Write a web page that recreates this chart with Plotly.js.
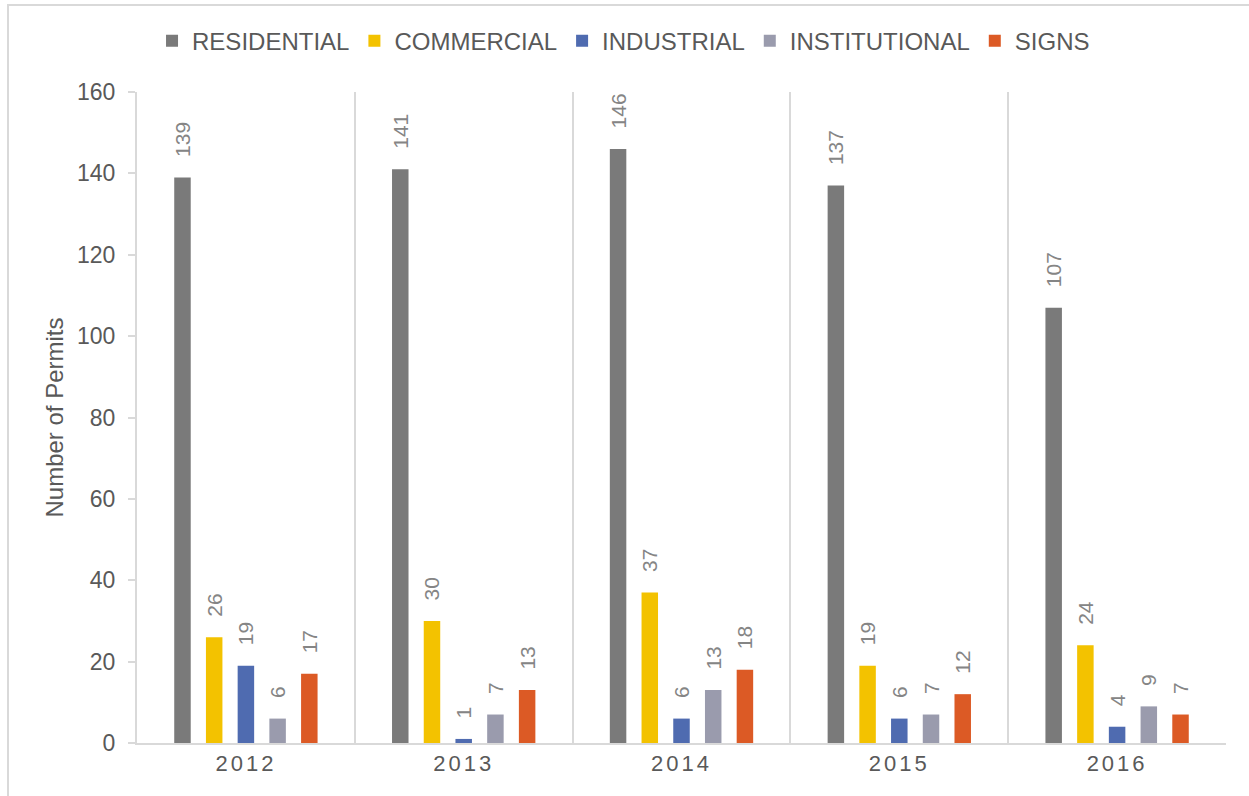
<!DOCTYPE html>
<html>
<head>
<meta charset="utf-8">
<script src="https://cdn.plot.ly/plotly-3.0.1.min.js"></script>
<style>
  html, body { margin: 0; padding: 0; background: #ffffff; overflow: hidden; }
  #chart { position: absolute; left: 0; top: 0; width: 1249px; height: 796px; }
  #frame { position: absolute; left: 7px; top: 4px; width: 1400px; height: 900px;
           border-left: 2px solid #d9d9d9; border-top: 2px solid #d9d9d9; pointer-events: none; }
  .xtick text { letter-spacing: 3px; }
</style>
</head>
<body>
<div id="chart"></div>
<div id="frame"></div>
<script>
const years = ['2012', '2013', '2014', '2015', '2016'];
const residential   = [139, 141, 146, 137, 107];
const commercial    = [26, 30, 37, 19, 24];
const industrial    = [19, 1, 6, 6, 4];
const institutional = [6, 7, 13, 7, 9];
const signs         = [17, 13, 18, 12, 7];

const seriesNames  = ['RESIDENTIAL', 'COMMERCIAL', 'INDUSTRIAL', 'INSTITUTIONAL', 'SIGNS'];
const seriesValues = [residential, commercial, industrial, institutional, signs];
const seriesColors = ['#7a7a7a', '#f3c200', '#4f6bb0', '#9a9bad', '#dc5a25'];

const FONT = 'Liberation Sans, Arial, sans-serif';

const traces = seriesNames.map((name, i) => ({
  type: 'bar',
  name: name,
  x: years,
  y: seriesValues[i],
  marker: { color: seriesColors[i] },
  text: seriesValues[i].map(v => String(v)),
  texttemplate: '\u00a0\u00a0\u00a0%{text}',
  textposition: 'outside',
  textangle: -90,
  constraintext: 'none',
  cliponaxis: false,
  textfont: { family: FONT, size: 21, color: '#858585' },
  hoverinfo: 'x+y+name'
}));

const layout = {
  width: 1249,
  height: 796,
  margin: { l: 137, r: 23, t: 92, b: 53 },
  paper_bgcolor: '#ffffff',
  plot_bgcolor: '#ffffff',
  font: { family: FONT, color: '#595959' },
  barmode: 'group',
  bargap: 0.272,
  bargroupgap: 0.48,
  showlegend: true,
  legend: {
    orientation: 'h',
    x: 0.0138,
    xanchor: 'left',
    y: 1.078,
    yanchor: 'middle',
    font: { family: FONT, size: 24, color: '#595959' },
    itemclick: false,
    traceorder: 'normal'
  },
  xaxis: {
    type: 'category',
    tickson: 'boundaries',
    showgrid: true,
    gridcolor: '#d9d9d9',
    gridwidth: 2,
    showline: true,
    linecolor: '#d9d9d9',
    linewidth: 2,
    ticks: '',
    tickfont: { family: FONT, size: 22, color: '#595959' },
    zeroline: false,
    fixedrange: true
  },
  yaxis: {
    range: [0, 160],
    dtick: 20,
    showgrid: false,
    zeroline: false,
    showline: true,
    linecolor: '#d9d9d9',
    linewidth: 2,
    ticks: 'outside',
    ticklen: 7,
    tickwidth: 2,
    tickcolor: '#d9d9d9',
    ticklabelstandoff: 8,
    tickfont: { family: FONT, size: 23, color: '#595959' },
    title: { text: 'Number of Permits', font: { family: FONT, size: 24, color: '#595959' }, standoff: 7 },
    fixedrange: true
  }
};

Plotly.newPlot('chart', traces, layout, { displayModeBar: false, staticPlot: false });
</script>
</body>
</html>
